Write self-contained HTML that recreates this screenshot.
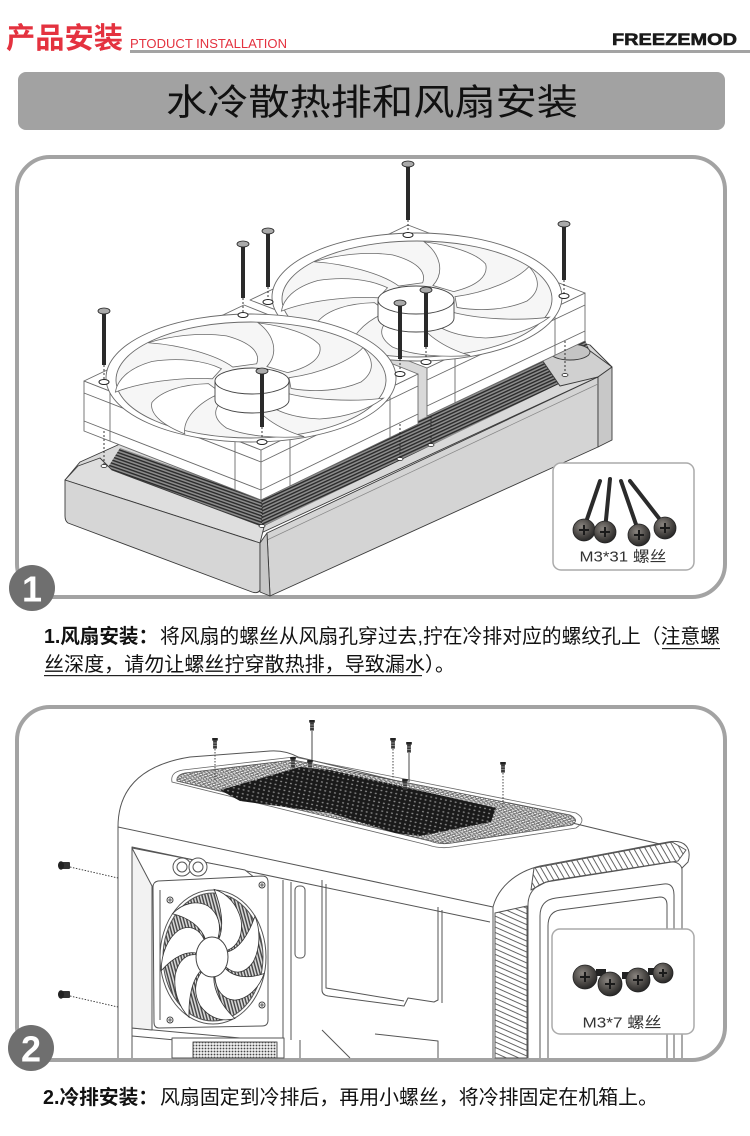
<!DOCTYPE html>
<html><head><meta charset="utf-8"><style>
html,body{margin:0;padding:0;background:#fff;}
svg{display:block;}
text{font-family:"Liberation Sans","Noto Sans CJK SC",sans-serif;}
</style></head><body>
<svg width="750" height="1136" viewBox="0 0 750 1136" xmlns="http://www.w3.org/2000/svg">
<defs>
<pattern id="fin" width="6" height="3" patternUnits="userSpaceOnUse" patternTransform="rotate(-24.8)"><rect width="6" height="3" fill="#8c8c8c"/><rect width="6" height="1.4" fill="#2a2a2a"/></pattern>
<pattern id="finL" width="6" height="3" patternUnits="userSpaceOnUse" patternTransform="rotate(19.4)"><rect width="6" height="3" fill="#8c8c8c"/><rect width="6" height="1.4" fill="#2a2a2a"/></pattern>
<pattern id="h2" width="3" height="3" patternUnits="userSpaceOnUse" patternTransform="rotate(75)"><rect width="3" height="3" fill="#d8d8d8"/><rect width="3" height="1.4" fill="#444"/></pattern>
<pattern id="hA" width="5" height="5" patternUnits="userSpaceOnUse" patternTransform="rotate(60)"><rect width="5" height="5" fill="#fff"/><rect width="5" height="0.9" fill="#555"/></pattern>
<pattern id="hB" width="5" height="5" patternUnits="userSpaceOnUse" patternTransform="rotate(24)"><rect width="5" height="5" fill="#fff"/><rect width="5" height="0.9" fill="#555"/></pattern>
<pattern id="mL" width="5" height="3.5" patternUnits="userSpaceOnUse" patternTransform="rotate(12)"><rect width="5" height="3.5" fill="#d6d6d6"/><ellipse cx="2.5" cy="1.75" rx="1.9" ry="1.1" fill="#f4f4f4" stroke="#4a4a4a" stroke-width="0.7"/></pattern>
<pattern id="mD" width="5" height="4" patternUnits="userSpaceOnUse" patternTransform="rotate(12)"><rect width="5" height="4" fill="#1a1a1a"/><ellipse cx="2.5" cy="2" rx="1.1" ry="0.7" fill="#8a8a8a"/></pattern>
<pattern id="psu" width="3" height="3" patternUnits="userSpaceOnUse"><rect width="3" height="3" fill="#eee"/><circle cx="1.5" cy="1.5" r="0.9" fill="#444"/></pattern>
<radialGradient id="hd" cx="0.4" cy="0.35" r="0.7"><stop offset="0" stop-color="#8a8580"/><stop offset="0.6" stop-color="#4a4744"/><stop offset="1" stop-color="#222"/></radialGradient>
<path id="b1" d="M38,-10 C70,-20 100,-50 112,-80 C122,-55 125,-25 110,0 C90,20 65,25 40,15 Z" fill="#fff" stroke="#6a6a6a" stroke-width="0.8" vector-effect="non-scaling-stroke"/>
<path id="b2" d="M14,-4 C26,-6 36,-18 42,-32 C48,-20 47,-6 40,4 C32,13 22,14 13,8 Z" fill="#fff" stroke="#333" stroke-width="0.8" vector-effect="non-scaling-stroke"/>
<g id="ts"><rect x="-2.8" y="0" width="5.6" height="2.6" fill="#222"/><rect x="-1.9" y="2.6" width="3.8" height="8" fill="#3a3a3a"/><line x1="-1.9" y1="5" x2="1.9" y2="5" stroke="#bbb" stroke-width="0.6"/><line x1="-1.9" y1="7.5" x2="1.9" y2="7.5" stroke="#bbb" stroke-width="0.6"/></g>
</defs>

<!-- HEADER -->
<text x="6" y="39" font-size="29" font-weight="bold" fill="#e4323f" dominant-baseline="central" textLength="117" lengthAdjust="spacingAndGlyphs">产品安装</text>
<text x="130" y="44" font-size="12.5" fill="#e4323f" dominant-baseline="central" textLength="157" lengthAdjust="spacingAndGlyphs">PTODUCT INSTALLATION</text>
<rect x="130" y="50" width="620" height="3" fill="#a3a3a3"/>
<text x="612" y="39.5" font-size="17" font-weight="bold" fill="#1a1a1a" stroke="#1a1a1a" stroke-width="0.6" dominant-baseline="central" textLength="125" lengthAdjust="spacingAndGlyphs">FREEZEMOD</text>

<!-- TITLE BAR -->
<rect x="18" y="72" width="707" height="58" rx="8" fill="#a2a2a2"/>
<text x="166" y="102" font-size="36" fill="#111" dominant-baseline="central" textLength="412" lengthAdjust="spacingAndGlyphs">水冷散热排和风扇安装</text>

<!-- PANEL 1 -->
<rect x="17" y="157" width="708" height="440" rx="33" fill="#fff" stroke="#a3a3a3" stroke-width="4"/>

<g stroke="#3a3a3a" stroke-width="0.9" stroke-linejoin="round">
  <!-- radiator top plane -->
  <polygon points="65,480 80,462 120,444 430,300 590,345 612,367 598,377 261,533 244,543" fill="#d9d9d9"/>
  <!-- fins -->
  <polygon points="105,472 120,448 267,500 264,527" fill="url(#finL)" stroke="none"/>
  <polygon points="262,527 262,496 585,340 592,356 590,369" fill="url(#fin)" stroke="none"/>
  <!-- end cap top strip -->
  <polygon points="65,480 78,466 100,458 112,470 264,527 260,543" fill="#dedede"/>
  <!-- right end tank -->
  <polygon points="540,357 582,345 612,367 598,377 560,386" fill="#d0d0d0"/>
  <ellipse cx="570" cy="352" rx="20" ry="8" fill="#c4c4c4"/>
  <!-- long front face -->
  <polygon points="267,533 598,377 598,447 270,596" fill="#d4d4d4"/>
  <polygon points="598,377 612,367 612,440 598,447" fill="#c8c8c8"/>
  <line x1="267" y1="540" x2="598" y2="384" stroke="#888" stroke-width="0.7"/>
  <!-- left end cap -->
  <path d="M65,480 L260,543 L260,590 Q258,594 252,592 L68,523 Q65,521 65,516 Z" fill="#d6d6d6"/>
  <polygon points="260,543 267,533 270,596 260,592" fill="#c6c6c6"/>
</g>

<!-- fan 2 (back) -->
<g stroke="#6a6a6a" stroke-width="0.9" stroke-linejoin="round">
  <polygon points="427,368 585,293 585,341 427,416" fill="#fff"/>
  <line x1="427" y1="380" x2="585" y2="305"/>
  <line x1="427" y1="406" x2="585" y2="331"/>
  <line x1="455" y1="355" x2="455" y2="403"/>
  <line x1="555" y1="307" x2="555" y2="355"/>
  <polygon points="250,300 408,225 585,293 427,368" fill="#fff"/>
  <ellipse cx="417" cy="297" rx="145" ry="64" fill="#fff"/>
  <ellipse cx="417" cy="299" rx="135" ry="58" fill="#f6f6f6"/>
</g>
<g transform="translate(417,301) scale(1,0.43)">
  <use href="#b1"/><use href="#b1" transform="rotate(51.4)"/><use href="#b1" transform="rotate(102.8)"/><use href="#b1" transform="rotate(154.3)"/><use href="#b1" transform="rotate(205.7)"/><use href="#b1" transform="rotate(257.1)"/><use href="#b1" transform="rotate(308.6)"/>
</g>
<g stroke="#444" stroke-width="0.9">
  <path d="M378,300 L378,318 A38,14 0 0 0 454,318 L454,300 Z" fill="#fff"/>
  <ellipse cx="416" cy="300" rx="38" ry="14" fill="#fff"/>
</g>

<!-- fan 1 (front) -->
<g stroke="#6a6a6a" stroke-width="0.9" stroke-linejoin="round">
  <polygon points="84,381 261,450 261,500 84,431" fill="#fff"/>
  <polygon points="261,450 418,374 418,424 261,500" fill="#fff"/>
  <line x1="84" y1="393" x2="261" y2="462"/>
  <line x1="84" y1="421" x2="261" y2="490"/>
  <line x1="261" y1="462" x2="418" y2="386"/>
  <line x1="261" y1="490" x2="418" y2="414"/>
  <line x1="110" y1="391" x2="110" y2="441"/>
  <line x1="235" y1="440" x2="235" y2="490"/>
  <line x1="290" y1="436" x2="290" y2="486"/>
  <line x1="390" y1="388" x2="390" y2="438"/>
  <polygon points="84,381 244,305 418,374 261,450" fill="#fff"/>
  <ellipse cx="251" cy="378" rx="145" ry="64" fill="#fff"/>
  <ellipse cx="251" cy="380" rx="135" ry="58" fill="#f6f6f6"/>
</g>
<g transform="translate(251,382) scale(1,0.43)">
  <use href="#b1"/><use href="#b1" transform="rotate(51.4)"/><use href="#b1" transform="rotate(102.8)"/><use href="#b1" transform="rotate(154.3)"/><use href="#b1" transform="rotate(205.7)"/><use href="#b1" transform="rotate(257.1)"/><use href="#b1" transform="rotate(308.6)"/>
</g>
<g stroke="#444" stroke-width="0.9">
  <path d="M215,381 L215,400 A37,13 0 0 0 289,400 L289,381 Z" fill="#fff"/>
  <ellipse cx="252" cy="381" rx="37" ry="13" fill="#fff"/>
</g>

<!-- panel 1 screws -->
<g stroke="#222">
  <g stroke-dasharray="2,2" stroke-width="0.9">
    <line x1="408" y1="220" x2="408" y2="233"/><line x1="243" y1="298" x2="243" y2="313"/>
    <line x1="268" y1="287" x2="268" y2="300"/><line x1="104" y1="365" x2="104" y2="380"/>
    <line x1="262" y1="427" x2="262" y2="440"/><line x1="564" y1="280" x2="564" y2="294"/>
    <line x1="400" y1="359" x2="400" y2="372"/><line x1="426" y1="347" x2="426" y2="360"/>
    <line x1="104" y1="431" x2="104" y2="465"/><line x1="262" y1="500" x2="262" y2="524"/>
    <line x1="400" y1="424" x2="400" y2="458"/><line x1="431" y1="416" x2="431" y2="444"/>
    <line x1="565" y1="341" x2="565" y2="374"/>
  </g>
  <g stroke-width="4" stroke="#2a2a2a">
    <line x1="408" y1="165" x2="408" y2="220"/><line x1="243" y1="245" x2="243" y2="298"/>
    <line x1="268" y1="232" x2="268" y2="287"/><line x1="104" y1="312" x2="104" y2="365"/>
    <line x1="262" y1="372" x2="262" y2="427"/><line x1="564" y1="225" x2="564" y2="280"/>
    <line x1="400" y1="304" x2="400" y2="359"/><line x1="426" y1="291" x2="426" y2="347"/>
  </g>
  <g fill="#aaa" stroke-width="0.8">
    <ellipse cx="408" cy="164" rx="6" ry="3"/><ellipse cx="243" cy="244" rx="6" ry="3"/>
    <ellipse cx="268" cy="231" rx="6" ry="3"/><ellipse cx="104" cy="311" rx="6" ry="3"/>
    <ellipse cx="262" cy="371" rx="6" ry="3"/><ellipse cx="564" cy="224" rx="6" ry="3"/>
    <ellipse cx="400" cy="303" rx="6" ry="3"/><ellipse cx="426" cy="290" rx="6" ry="3"/>
  </g>
  <g fill="#fff" stroke-width="1">
    <ellipse cx="408" cy="235" rx="5" ry="2.5"/><ellipse cx="243" cy="315" rx="5" ry="2.5"/>
    <ellipse cx="268" cy="302" rx="5" ry="2.5"/><ellipse cx="104" cy="382" rx="5" ry="2.5"/>
    <ellipse cx="262" cy="442" rx="5" ry="2.5"/><ellipse cx="564" cy="296" rx="5" ry="2.5"/>
    <ellipse cx="400" cy="374" rx="5" ry="2.5"/><ellipse cx="426" cy="362" rx="5" ry="2.5"/>
  </g>
  <g fill="#fff" stroke-width="0.8">
    <ellipse cx="104" cy="466" rx="3" ry="1.5"/><ellipse cx="262" cy="526" rx="3" ry="1.5"/>
    <ellipse cx="400" cy="459" rx="3" ry="1.5"/><ellipse cx="431" cy="445" rx="3" ry="1.5"/>
    <ellipse cx="565" cy="375" rx="3" ry="1.5"/>
  </g>
</g>

<!-- screw box 1 -->
<rect x="553" y="463" width="141" height="107" rx="8" fill="#fff" stroke="#aaa" stroke-width="1.5"/>
<g stroke="#2b2b2b" stroke-width="4" stroke-linecap="round">
  <line x1="584" y1="528" x2="600" y2="481"/><line x1="605" y1="530" x2="610" y2="479"/>
  <line x1="639" y1="533" x2="621" y2="481"/><line x1="665" y1="526" x2="630" y2="481"/>
</g>
<g stroke="#222" stroke-width="0.8">
  <circle cx="584" cy="530" r="11" fill="url(#hd)"/><circle cx="605" cy="532" r="11" fill="url(#hd)"/>
  <circle cx="639" cy="535" r="11" fill="url(#hd)"/><circle cx="665" cy="528" r="11" fill="url(#hd)"/>
</g>
<g stroke="#1a1a1a" stroke-width="2">
  <path d="M579,530 h10 M584,525 v10"/><path d="M600,532 h10 M605,527 v10"/>
  <path d="M634,535 h10 M639,530 v10"/><path d="M660,528 h10 M665,523 v10"/>
</g>
<text x="623" y="557" font-size="15" fill="#333" text-anchor="middle" dominant-baseline="central" textLength="87" lengthAdjust="spacingAndGlyphs">M3*31 螺丝</text>

<!-- circle 1 -->
<circle cx="32" cy="588" r="23" fill="#6f6f6f"/>
<text x="32" y="589" font-size="36" font-weight="bold" fill="#fff" text-anchor="middle" dominant-baseline="central">1</text>

<!-- caption 1 -->
<text x="44" y="637" font-size="20" font-weight="bold" fill="#111" dominant-baseline="central" textLength="114" lengthAdjust="spacingAndGlyphs">1.风扇安装：</text>
<text x="160" y="637" font-size="20" fill="#111" dominant-baseline="central" textLength="560" lengthAdjust="spacingAndGlyphs">将风扇的螺丝从风扇孔穿过去,拧在冷排对应的螺纹孔上（注意螺</text>
<rect x="662" y="648" width="58" height="1.2" fill="#222"/>
<text x="44" y="665" font-size="20" fill="#111" dominant-baseline="central" textLength="411" lengthAdjust="spacingAndGlyphs">丝深度，请勿让螺丝拧穿散热排，导致漏水）。</text>
<rect x="44" y="675" width="378" height="1.2" fill="#222"/>

<!-- PANEL 2 -->
<rect x="17" y="707" width="708" height="353" rx="33" fill="#fff" stroke="#a3a3a3" stroke-width="4"/>

<g fill="none" stroke="#555" stroke-width="1" stroke-linejoin="round">
  <!-- case outline -->
  <path d="M118,1058 L118,827 C118,790 140,765 190,757 L270,751 Q285,750 298,757 L668,846"/>
  <path d="M118,827 L493,907 L493,1058"/>
  <path d="M132,1058 L132,847 L490,922"/>
  <!-- bezel -->
  <path d="M493,907 C498,888 515,872 540,866 L668,842 C685,839 692,848 688,862 L682,868 L682,1058"/>
  <polygon points="534,868 672,842 686,850 678,861 546,882 531,890" fill="url(#hA)"/>
  <polygon points="495,913 527,906 527,1058 495,1058" fill="url(#hB)"/>
  <path d="M528,1058 L528,905 C528,890 538,883 555,880 L670,862 C678,861 682,866 682,870"/>
  <path d="M540,1058 L540,916 Q540,900 556,898 L664,884 Q674,883 674,895 L674,1058"/>
  <path d="M548,1058 L548,926 Q548,912 560,910 L660,897 Q667,897 667,905 L667,1058"/>
  <!-- interior -->
  <path d="M283,880 L283,1058 M291,882 L291,1040"/>
  <rect x="295" y="886" width="10" height="72" rx="4"/>
  <path d="M322,880 L322,990 Q322,995 328,996 L404,1006 L408,998 L434,1002 L438,1000 L438,907"/>
  <path d="M326,884 L326,988 L404,1001 M442,910 L442,1003"/>
  <path d="M322,1030 L350,1058 M375,1034 L438,1041 L438,1058 M300,1040 L300,1058"/>
  <path d="M132,1028 L283,1042 M132,1036 L283,1050"/>
  <rect x="172" y="1038" width="112" height="20" fill="#fff"/>
  <rect x="193" y="1042" width="84" height="16" fill="url(#psu)"/>
  <!-- radiator at side -->
  <path d="M132,848 L152,852 L152,1030 L132,1028 Z" fill="#f2f2f2"/>
  <path d="M132,848 L245,870 L255,878 L255,886 L152,886 Z" fill="#fff"/>
  <circle cx="182" cy="867" r="9" fill="#fff"/><circle cx="182" cy="867" r="5"/>
  <circle cx="198" cy="867" r="9" fill="#fff"/><circle cx="198" cy="867" r="5"/>
  <!-- fan frame -->
  <path d="M153,887 Q153,882 158,881 L262,876 Q268,876 268,882 L268,1020 Q268,1026 262,1026 L159,1028 Q154,1028 154,1022 Z" fill="#fff"/>
  <path d="M160,890 L160,1020"/>
  <ellipse cx="213" cy="957" rx="53" ry="67"/>
  <ellipse cx="213" cy="957" rx="50" ry="64" fill="url(#h2)"/>
</g>
<g transform="translate(213,957) scale(1,1.28)">
  <use href="#b2"/><use href="#b2" transform="rotate(51.4)"/><use href="#b2" transform="rotate(102.8)"/><use href="#b2" transform="rotate(154.3)"/><use href="#b2" transform="rotate(205.7)"/><use href="#b2" transform="rotate(257.1)"/><use href="#b2" transform="rotate(308.6)"/>
</g>
<g stroke="#444" stroke-width="1" fill="#fff">
  <ellipse cx="212" cy="957" rx="16" ry="20"/>
  <circle cx="170" cy="900" r="3"/><circle cx="262" cy="885" r="3"/><circle cx="262" cy="1005" r="3"/><circle cx="170" cy="1020" r="3"/>
</g>
<g stroke="#333" stroke-width="0.8">
  <path d="M168,900 h4 M170,898 v4 M260,885 h4 M262,883 v4 M260,1005 h4 M262,1003 v4 M168,1020 h4 M170,1018 v4"/>
</g>

<!-- top mesh -->
<path d="M172,782 Q170,772 183,770 L294,757 L576,813 Q588,820 576,828 L452,847 Q440,849 428,845 Z" fill="none" stroke="#666" stroke-width="0.8"/>
<path d="M177,781 Q176,775 185,773 L293,760 L570,815 Q580,820 572,825 L452,843 Q440,845 430,841 Z" fill="url(#mL)" stroke="#555" stroke-width="0.8"/>
<path d="M220,790 L300,767 L330,770 L496,808 L491,822 L420,836 L395,833 L330,813 L300,809 L240,801 Z" fill="url(#mD)"/>

<!-- top screws -->
<g stroke="#333" stroke-width="0.9">
  <line x1="215" y1="749" x2="215" y2="780" stroke-dasharray="1.5,1.5"/>
  <line x1="312" y1="731" x2="312" y2="760"/>
  <line x1="393" y1="749" x2="393" y2="778" stroke-dasharray="1.5,1.5"/>
  <line x1="409" y1="753" x2="409" y2="782"/>
  <line x1="503" y1="773" x2="503" y2="808" stroke-dasharray="1.5,1.5"/>
</g>
<use href="#ts" x="215" y="738"/><use href="#ts" x="312" y="720"/><use href="#ts" x="293" y="757"/>
<use href="#ts" x="310" y="760"/><use href="#ts" x="393" y="738"/><use href="#ts" x="409" y="742"/>
<use href="#ts" x="405" y="779"/><use href="#ts" x="503" y="762"/>

<!-- side screws -->
<g stroke="#333" stroke-width="0.9">
  <line x1="70" y1="867" x2="118" y2="878" stroke-dasharray="1.5,1.5"/>
  <line x1="70" y1="996" x2="118" y2="1007" stroke-dasharray="1.5,1.5"/>
</g>
<g fill="#333">
  <rect x="62" y="862" width="8" height="7" rx="1"/><ellipse cx="61" cy="865.5" rx="3" ry="4.2" fill="#222"/>
  <rect x="62" y="991" width="8" height="7" rx="1"/><ellipse cx="61" cy="994.5" rx="3" ry="4.2" fill="#222"/>
</g>

<!-- screw box 2 -->
<rect x="552" y="929" width="142" height="105" rx="8" fill="#fff" stroke="#aaa" stroke-width="1.5"/>
<g fill="#222">
  <rect x="596" y="969" width="10" height="7"/><rect x="622" y="972" width="8" height="7"/><rect x="648" y="968" width="8" height="7"/>
</g>
<g stroke="#222" stroke-width="0.8">
  <circle cx="585" cy="977" r="12" fill="url(#hd)"/><circle cx="610" cy="984" r="12" fill="url(#hd)"/>
  <circle cx="638" cy="980" r="12" fill="url(#hd)"/><circle cx="663" cy="973" r="10" fill="url(#hd)"/>
</g>
<g stroke="#1a1a1a" stroke-width="2">
  <path d="M580,977 h10 M585,972 v10"/><path d="M605,984 h10 M610,979 v10"/>
  <path d="M633,980 h10 M638,975 v10"/><path d="M659,973 h8 M663,969 v8"/>
</g>
<text x="622" y="1023" font-size="15" fill="#333" text-anchor="middle" dominant-baseline="central" textLength="79" lengthAdjust="spacingAndGlyphs">M3*7 螺丝</text>

<!-- circle 2 -->
<circle cx="31" cy="1048" r="23" fill="#6f6f6f"/>
<text x="31" y="1049" font-size="36" font-weight="bold" fill="#fff" text-anchor="middle" dominant-baseline="central">2</text>

<!-- caption 2 -->
<text x="43" y="1098" font-size="20" font-weight="bold" fill="#111" dominant-baseline="central" textLength="115" lengthAdjust="spacingAndGlyphs">2.冷排安装：</text>
<text x="160" y="1098" font-size="20" fill="#111" dominant-baseline="central" textLength="498" lengthAdjust="spacingAndGlyphs">风扇固定到冷排后，再用小螺丝，将冷排固定在机箱上。</text>
</svg>
</body></html>
